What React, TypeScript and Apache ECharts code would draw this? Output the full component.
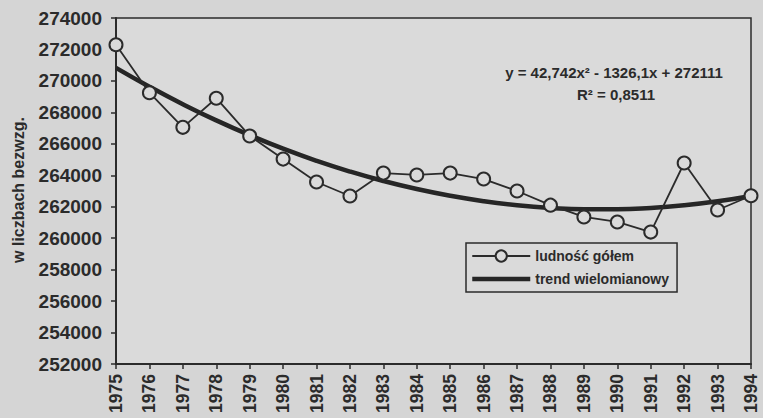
import React, { useEffect, useRef } from "react";
import * as echarts from "echarts";

const years = ["1975","1976","1977","1978","1979","1980","1981","1982","1983","1984","1985","1986","1987","1988","1989","1990","1991","1992","1993","1994"];
const population = [272300, 269250, 267050, 268900, 266500, 265030, 263570, 262680, 264140, 264020, 264140, 263760, 263000, 262100, 261350, 261030, 260390, 264780, 261790, 262700];
const trend = [270828, 269630, 268517, 267490, 266549, 265693, 264923, 264238, 263638, 263124, 262696, 262353, 262095, 261923, 261837, 261835, 261920, 262090, 262345, 262686];
const yTicks = { min: 252000, max: 274000, interval: 2000 };
const seriesNames = ["ludność gółem", "trend wielomianowy"];
const equationLines = ["y = 42,742x² - 1326,1x + 272111", "R² = 0,8511"];
const axisName = "w liczbach bezwzg.";

const ink = "#2b2b2b";
const font = "'Liberation Sans', Arial, sans-serif";

export default function App() {
  const ref = useRef<HTMLDivElement>(null);
  useEffect(() => {
    if (!ref.current) return;
    const chart = echarts.init(ref.current, null, { renderer: "svg" });
    chart.setOption({
      animation: false,
      backgroundColor: "#d5d5d5",
      grid: {
        left: 116,
        right: 12,
        top: 18,
        bottom: 54,
        containLabel: false,
        outerBoundsMode: "none",
        show: true,
        backgroundColor: "#dadada",
        borderColor: ink,
        borderWidth: 1.5,
      },
      legend: {
        orient: "vertical",
        left: 466,
        top: 243,
        padding: [6, 8, 6, 4],
        itemGap: 9,
        itemWidth: 58,
        itemHeight: 14,
        itemTextGap: 1,
        borderColor: ink,
        borderWidth: 1.5,
        textStyle: { color: ink, fontSize: 14, fontWeight: "bold", fontFamily: font },
        data: [
          { name: seriesNames[0] },
          { name: seriesNames[1], itemStyle: { opacity: 0 }, lineStyle: { width: 4.5, color: "#262626" } },
        ],
      },
      xAxis: {
        type: "category",
        data: years,
        boundaryGap: false,
        axisLine: { lineStyle: { color: ink, width: 2 } },
        axisTick: { show: true, length: 5, lineStyle: { color: ink, width: 1.5 }, interval: 0 },
        axisLabel: {
          interval: 0,
          rotate: 90,
          margin: 10,
          color: ink,
          fontSize: 17.5,
          lineHeight: 14,
          fontWeight: "bold",
          fontFamily: font,
        },
        splitLine: { show: false },
      },
      yAxis: {
        type: "value",
        min: yTicks.min,
        max: yTicks.max,
        interval: yTicks.interval,
        axisLine: { show: true, lineStyle: { color: ink, width: 2 } },
        axisTick: { show: true, length: 5, lineStyle: { color: ink, width: 1.5 } },
        axisLabel: {
          margin: 14,
          color: ink,
          fontSize: 19,
          fontWeight: "bold",
          fontFamily: font,
          formatter: (v: number) => String(v),
        },
        splitLine: { show: false },
      },
      graphic: [
        {
          type: "text",
          x: 18,
          y: 190,
          rotation: Math.PI / 2,
          style: {
            text: axisName,
            fill: ink,
            fontSize: 16,
            fontWeight: "bold",
            fontFamily: font,
            align: "center",
            verticalAlign: "middle",
          },
        },
        {
          type: "text",
          x: 614,
          y: 72,
          style: {
            text: equationLines[0],
            fill: ink,
            fontSize: 15,
            fontWeight: "bold",
            fontFamily: font,
            align: "center",
            verticalAlign: "middle",
          },
        },
        {
          type: "text",
          x: 616,
          y: 94,
          style: {
            text: equationLines[1],
            fill: ink,
            fontSize: 15,
            fontWeight: "bold",
            fontFamily: font,
            align: "center",
            verticalAlign: "middle",
          },
        },
      ],
      series: [
        {
          name: seriesNames[0],
          type: "line",
          data: population,
          symbol: "circle",
          symbolSize: 13,
          showAllSymbol: true,
          lineStyle: { color: ink, width: 1.8 },
          itemStyle: { color: "#dadada", borderColor: ink, borderWidth: 2 },
          z: 3,
        },
        {
          name: seriesNames[1],
          type: "line",
          data: trend,
          smooth: true,
          symbol: "none",
          lineStyle: { color: "#262626", width: 4.5 },
          itemStyle: { color: "#262626" },
          z: 2,
        },
      ],
    });
    return () => chart.dispose();
  }, []);
  return <div ref={ref} style={{ position: "fixed", left: 0, top: 0, width: 763, height: 418 }} />;
}
